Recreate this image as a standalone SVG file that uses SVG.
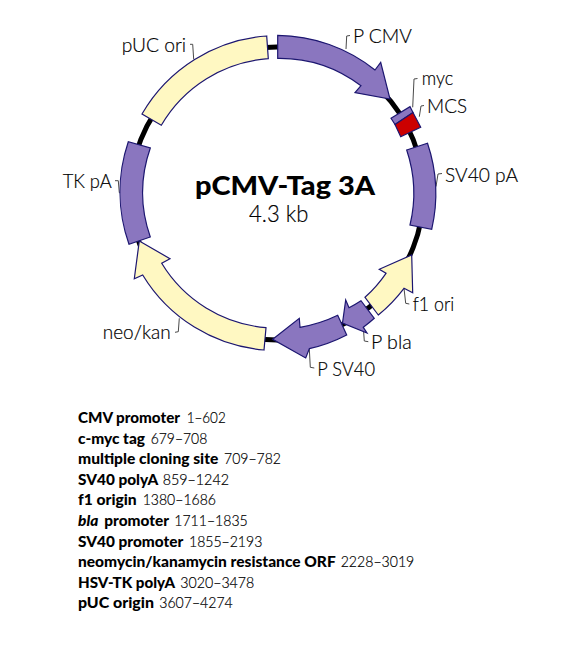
<svg xmlns="http://www.w3.org/2000/svg" width="565" height="668" viewBox="0 0 565 668">
<style>
text{font-family:"Lato","Open Sans","Liberation Sans",sans-serif;fill:#000;}
.l{font-size:20px;font-weight:300;stroke:#000;stroke-width:.2;}
.t{font-size:26px;font-weight:900;}
.s{font-size:23px;font-weight:300;stroke:#000;stroke-width:.2;}
.r{font-size:15px;font-weight:300;stroke:#000;stroke-width:.2;}
.b{font-weight:900;stroke:none;}
.i{font-style:italic;}
.p{fill:#8a76bf;stroke:#1c1670;stroke-width:1.2;stroke-linejoin:miter;}
.y{fill:#fff8c2;stroke:#1c1670;stroke-width:1.2;stroke-linejoin:miter;}
.m{fill:#cc0000;stroke:#1c1670;stroke-width:1.2;}
.c{fill:none;stroke:#4a4a4a;stroke-width:1;}
</style>
<rect width="565" height="668" fill="#fff"/>
<g id="connectors">
<circle cx="277" cy="193.5" r="146.5" fill="none" stroke="#000" stroke-width="5"/>
<path class="c" d="M346 49L346.7 36L350 35.5"/>
<path class="c" d="M412.7 107.3L414 79L417.5 78.5"/>
<path class="c" d="M419.3 116.7L421 106L424 105.5"/>
<path class="c" d="M436 186.5L438 174L442 173.5"/>
<path class="c" d="M404 288.3L405.7 303.3L409.3 304"/>
<path class="c" d="M363.3 327.3L364.3 341L368.3 341.7"/>
<path class="c" d="M309.3 348.7L310.3 367.3L314.3 368"/>
<path class="c" d="M179.3 318.3L178.3 331.7L175 332.3"/>
<path class="c" d="M115 180.7L118.3 180.7L119.3 192.7L121 192.7"/>
<path class="c" d="M190 44.3L192.7 44.3L193.7 59.3"/>
</g>
<g id="pUC-ori"><path class="y" d="M142 114A157 157 0 0 1 266.7 36L268.3 58.7A135 135 0 0 0 161.3 125.3Z"/><text class="l" x="121.7" y="51.7" textLength="64.3" lengthAdjust="spacingAndGlyphs">pUC ori</text></g>
<g id="P-CMV"><path class="p" d="M277.7 35.3A158 158 0 0 1 375 70L380.7 62.3L390 99L355 92.7L361 85.7A135 135 0 0 0 277.7 58.3Z"/><text class="l" x="353" y="43" textLength="59" lengthAdjust="spacingAndGlyphs">P CMV</text></g>
<g id="myc"><path class="p" d="M391 118.3L410 106.7L413 112.5L395 124.5Z"/><text class="l" x="421.7" y="85" textLength="31.5" lengthAdjust="spacingAndGlyphs">myc</text></g>
<g id="MCS"><path class="m" d="M395 124.5L413 112.5L420.7 127.3L400.7 136.7Z"/><text class="l" x="427" y="112.7" textLength="40" lengthAdjust="spacingAndGlyphs">MCS</text></g>
<g id="SV40-pA"><path class="p" d="M406.7 150L427.5 143.3A158 158 0 0 1 431.7 229.3L410 225A136 136 0 0 0 406.7 150Z"/><text class="l" x="445" y="181.7" textLength="73" lengthAdjust="spacingAndGlyphs">SV40 pA</text></g>
<g id="f1-ori"><path class="y" d="M411.7 255L412.7 292.7L404 288.3A158 158 0 0 1 378.3 315L365 297.3A136 136 0 0 0 386 273.3L379.3 269.3Z"/><text class="l" x="412.7" y="310.7" textLength="41.5" lengthAdjust="spacingAndGlyphs">f1 ori</text></g>
<g id="P-bla"><path class="p" d="M342.5 323L345.7 300L349 307.7A135 135 0 0 0 361 300.7L374.3 318.3A158 158 0 0 1 363.3 327.3L367 333Z"/><text class="l" x="371" y="349" textLength="40.7" lengthAdjust="spacingAndGlyphs">P bla</text></g>
<g id="P-SV40"><path class="p" d="M272.7 339.3L299.3 318.3L300 327.3A136 136 0 0 0 337.7 315.3L346.7 335A158 158 0 0 1 309.3 348.7L305.7 358Z"/><text class="l" x="317.3" y="375.7" textLength="57.7" lengthAdjust="spacingAndGlyphs">P SV40</text></g>
<g id="neo-kan"><path class="y" d="M139.3 241L170 258.7L161.7 263.3A135 135 0 0 0 266 327.7L264 350A157 157 0 0 1 142.7 275L134.3 278.7Z"/><text class="l" x="102.7" y="339" textLength="68" lengthAdjust="spacingAndGlyphs">neo/kan</text></g>
<g id="TK-pA"><path class="p" d="M129 244.3A157 157 0 0 1 128.3 141.7L150.3 148A135 135 0 0 0 150.3 237Z"/><text class="l" x="62.7" y="188" textLength="49" lengthAdjust="spacingAndGlyphs">TK pA</text></g>
<g id="title"><text class="t" x="195" y="195" textLength="180" lengthAdjust="spacingAndGlyphs">pCMV-Tag 3A</text><text class="s" x="249" y="222.3" textLength="59.3" lengthAdjust="spacingAndGlyphs">4.3 kb</text></g>
<g id="legend">
<text class="r b" x="78" y="423.3" textLength="102" lengthAdjust="spacingAndGlyphs">CMV promoter</text><text class="r" x="186.7" y="423.3" textLength="39" lengthAdjust="spacingAndGlyphs">1–602</text>
<text class="r b" x="78" y="444" textLength="67" lengthAdjust="spacingAndGlyphs">c-myc tag</text><text class="r" x="150.7" y="444" textLength="56.6" lengthAdjust="spacingAndGlyphs">679–708</text>
<text class="r b" x="78" y="464.3" textLength="140.3" lengthAdjust="spacingAndGlyphs">multiple cloning site</text><text class="r" x="224" y="464.3" textLength="57" lengthAdjust="spacingAndGlyphs">709–782</text>
<text class="r b" x="78" y="485.3" textLength="80.3" lengthAdjust="spacingAndGlyphs">SV40 polyA</text><text class="r" x="162.7" y="485.3" textLength="66.3" lengthAdjust="spacingAndGlyphs">859–1242</text>
<text class="r b" x="78" y="505.3" textLength="58.7" lengthAdjust="spacingAndGlyphs">f1 origin</text><text class="r" x="142.7" y="505.3" textLength="73.3" lengthAdjust="spacingAndGlyphs">1380–1686</text>
<text class="r b i" x="78" y="526" textLength="20.3" lengthAdjust="spacingAndGlyphs">bla</text><text class="r b" x="104.3" y="526" textLength="64.7" lengthAdjust="spacingAndGlyphs">promoter</text><text class="r" x="174.3" y="526" textLength="73.4" lengthAdjust="spacingAndGlyphs">1711–1835</text>
<text class="r b" x="78" y="546.7" textLength="105.3" lengthAdjust="spacingAndGlyphs">SV40 promoter</text><text class="r" x="189" y="546.7" textLength="73.3" lengthAdjust="spacingAndGlyphs">1855–2193</text>
<text class="r b" x="78" y="567.3" textLength="257.7" lengthAdjust="spacingAndGlyphs">neomycin/kanamycin resistance ORF</text><text class="r" x="340.7" y="567.3" textLength="73.6" lengthAdjust="spacingAndGlyphs">2228–3019</text>
<text class="r b" x="78" y="588" textLength="97" lengthAdjust="spacingAndGlyphs">HSV-TK polyA</text><text class="r" x="180.3" y="588" textLength="74" lengthAdjust="spacingAndGlyphs">3020–3478</text>
<text class="r b" x="78" y="608.3" textLength="76" lengthAdjust="spacingAndGlyphs">pUC origin</text><text class="r" x="159.3" y="608.3" textLength="73.4" lengthAdjust="spacingAndGlyphs">3607–4274</text>
</g>
</svg>
